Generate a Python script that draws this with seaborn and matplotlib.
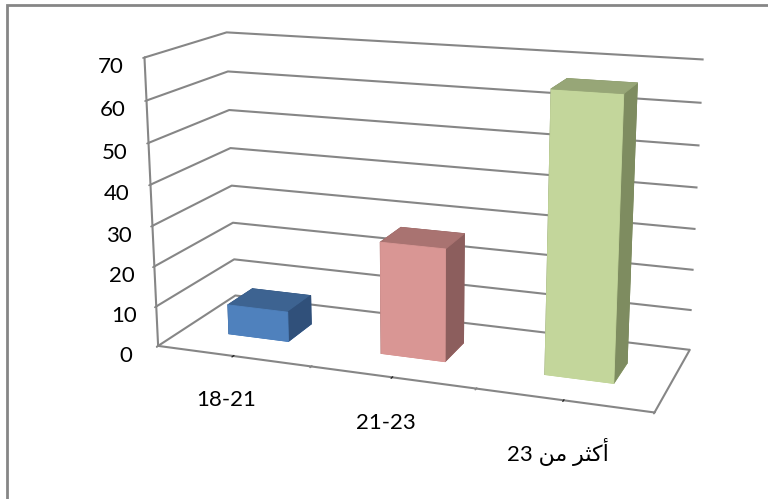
import numpy as np
import matplotlib
matplotlib.use("Agg")
import matplotlib.pyplot as plt
import seaborn as sns
from matplotlib.patches import Rectangle

# ---- data ----
categories = ["18-21", "21-23", "أكثر من 23"]
values = [7.5, 27.5, 66.25]
front_colors = ["#4F81BD", "#D99694", "#C3D69B"]
top_colors = ["#3D6391", "#A97371", "#97A677"]
side_colors = ["#30507A", "#8C5E5D", "#7E8C60"]
value_ticks = [0, 10, 20, 30, 40, 50, 60, 70]

# ---- minimal Arabic shaping (matplotlib has no RTL shaping) ----
FORMS = {
    "أ": ("\uFE83", "\uFE84", None, None),
    "ك": ("\uFED9", "\uFEDA", "\uFEDB", "\uFEDC"),
    "ث": ("\uFE99", "\uFE9A", "\uFE9B", "\uFE9C"),
    "ر": ("\uFEAD", "\uFEAE", None, None),
    "م": ("\uFEE1", "\uFEE2", "\uFEE3", "\uFEE4"),
    "ن": ("\uFEE5", "\uFEE6", "\uFEE7", "\uFEE8"),
}


def shape_word(word):
    out = []
    for i, ch in enumerate(word):
        if ch not in FORMS:
            out.append(ch)
            continue
        iso, fin, ini, med = FORMS[ch]
        prev = word[i - 1] if i > 0 else None
        nxt = word[i + 1] if i + 1 < len(word) else None
        join_prev = prev in FORMS and FORMS[prev][2] is not None
        join_next = nxt in FORMS and ini is not None
        if join_prev and join_next:
            out.append(med)
        elif join_prev:
            out.append(fin)
        elif join_next:
            out.append(ini)
        else:
            out.append(iso)
    return out


def visual(text):
    if not any(c in FORMS for c in text):
        return text
    toks = text.split(" ")[::-1]
    res = []
    for t in toks:
        if any(c in FORMS for c in t):
            res.append("".join(shape_word(t)[::-1]))
        else:
            res.append(t)
    return " ".join(res)


sns.set_theme(style="white")
plt.rcParams["font.family"] = ["Lato", "DejaVu Sans"]

fig = plt.figure(figsize=(7.68, 4.99), dpi=100)
fig.patch.set_facecolor("white")
ax = fig.add_axes([0.042, 0.072, 1.0, 1.0], projection="3d")
ax.set_proj_type("persp", focal_length=0.57)
ax.view_init(elev=15, azim=-70)

xs = np.arange(len(categories))
bw, bd, by = 0.4, 0.33, 0.33
for i, v in enumerate(values):
    cols = [front_colors[i], top_colors[i], front_colors[i],
            side_colors[i], side_colors[i], side_colors[i]]
    ax.bar3d(xs[i] - bw / 2, by, 0, bw, bd, v, color=cols, shade=False,
             edgecolor=cols, linewidth=0.6)

ax.set_xlim(-0.5, len(categories) - 0.5)
ax.set_ylim(0, 1)
ax.set_zlim(0, 70)
ax.set_box_aspect((3, 1.02, 1.74), zoom=1.21)

grid_c = "#868686"
for a in (ax.xaxis, ax.yaxis, ax.zaxis):
    a.set_pane_color((1, 1, 1, 0))
    a.pane.set_edgecolor("none")
    a.line.set_color(grid_c)
    a.line.set_linewidth(1.5)
ax.xaxis._axinfo["grid"].update(color=(1, 1, 1, 0), linewidth=0)
ax.yaxis._axinfo["grid"].update(color=(1, 1, 1, 0), linewidth=0)
ax.zaxis._axinfo["grid"].update(color=grid_c, linewidth=1.5)
ax.grid(True)

# tick marks at category boundaries, labels at category centres
ax.set_xticks(np.arange(len(categories) + 1) - 0.5)
ax.set_xticklabels([])
ax.set_xticks(xs, [visual(c) for c in categories], minor=True,
              fontsize=16, color="black")
ax.xaxis.set_tick_params(which="minor", tick1On=False, pad=11)
ax.xaxis._axinfo["tick"]["color"] = grid_c
ax.set_yticks([])
ax.set_zticks(value_ticks)
ax.set_zticklabels([str(t) for t in value_ticks], fontsize=16, color="black")
ax.zaxis.set_ticks_position("lower")
ax.tick_params(colors=grid_c)
for lab in ax.get_xticklabels(minor=True) + ax.get_zticklabels():
    lab.set_color("black")

fig.patches.append(Rectangle((7 / 768, -0.1), 1.2, (499 - 5) / 499 + 0.1,
                             transform=fig.transFigure, fill=False,
                             edgecolor=grid_c, linewidth=2))

fig.savefig("out.png", dpi=100)
